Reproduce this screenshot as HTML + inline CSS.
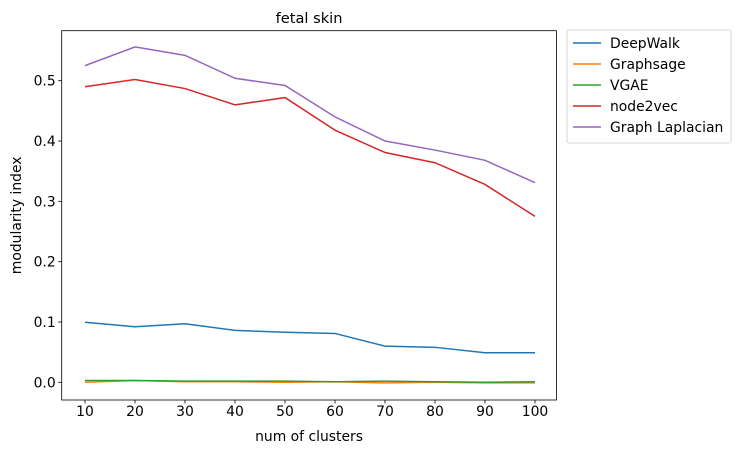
<!DOCTYPE html>
<html><head><meta charset="utf-8"><style>
body{margin:0;background:#fff;}
svg text{font-family:"DejaVu Sans","Liberation Sans",sans-serif;fill:#000;}
</style></head><body>
<svg width="741" height="453" xmlns="http://www.w3.org/2000/svg">
<rect width="741" height="453" fill="#fff"/>
<g id="plot"></g>
</svg>
<script>
const categories=[10,20,30,40,50,60,70,80,90,100];
const deepwalk=[0.0995,0.092,0.097,0.086,0.083,0.081,0.060,0.058,0.049,0.049];
const graphsage=[0.0,0.003,0.001,0.001,0.0,0.001,-0.001,0.0,-0.001,-0.001];
const vgae=[0.003,0.003,0.002,0.002,0.002,0.001,0.002,0.001,0.0,0.001];
const node2vec=[0.490,0.502,0.487,0.460,0.472,0.418,0.381,0.364,0.328,0.275];
const laplacian=[0.525,0.556,0.542,0.504,0.492,0.440,0.400,0.385,0.368,0.331];
const yTicks=[0.0,0.1,0.2,0.3,0.4,0.5];
const seriesNames=["DeepWalk","Graphsage","VGAE","node2vec","Graph Laplacian"];
const colors=["#1f77b4","#ff7f0e","#2ca02c","#d62728","#9467bd"];
const L=61.7,R=556.4,T=30.7,B=400;
const xs=v=>85+(v-10)*5;
const ys=v=>382.3-v*603.2;
const NS="http://www.w3.org/2000/svg";
const g=document.getElementById('plot');
function mk(t,a){const e=document.createElementNS(NS,t);for(const k in a)e.setAttribute(k,a[k]);g.appendChild(e);return e;}
const series=[deepwalk,graphsage,vgae,node2vec,laplacian];
series.forEach((s,i)=>{
 const p=mk('polyline',{points:s.map((v,j)=>xs(categories[j])+','+ys(v)).join(' '),fill:'none',stroke:colors[i],'stroke-width':1.5});
 
 
});
const ax=mk('rect',{x:L,y:T,width:R-L,height:B-T,fill:'none',stroke:'#000','stroke-width':0.8});


categories.forEach(c=>{
 mk('line',{x1:xs(c),x2:xs(c),y1:B,y2:B+3.5,stroke:'#000','stroke-width':0.8});
 const t=mk('text',{x:xs(c),y:B+16,'text-anchor':'middle','font-size':13.9});t.textContent=c;
 
 
});
yTicks.forEach(v=>{
 mk('line',{x1:L-3.5,x2:L,y1:ys(v),y2:ys(v),stroke:'#000','stroke-width':0.8});
 const t=mk('text',{x:L-6,y:ys(v)+5,'text-anchor':'end','font-size':13.9});t.textContent=v.toFixed(1);
 
 
});
let t=mk('text',{x:(L+R)/2,y:23,'text-anchor':'middle','font-size':14.6});t.textContent='fetal skin';


t=mk('text',{x:(L+R)/2,y:441,'text-anchor':'middle','font-size':13.9});t.textContent='num of clusters';


t=mk('text',{x:0,y:0,'text-anchor':'middle','font-size':13.9,transform:'translate(21,'+((T+B)/2)+') rotate(-90)'});t.textContent='modularity index';


const lg=mk('rect',{x:567,y:30,width:164,height:113,rx:2,fill:'#fff',stroke:'#ccc','stroke-width':0.8});


seriesNames.forEach((n,i)=>{
 const y=43+i*21;
 mk('line',{x1:573,x2:601,y1:y,y2:y,stroke:colors[i],'stroke-width':1.5});
 const tt=mk('text',{x:610,y:y+5,'font-size':13.9});tt.textContent=n;
 
 
});
</script>
</body></html>
